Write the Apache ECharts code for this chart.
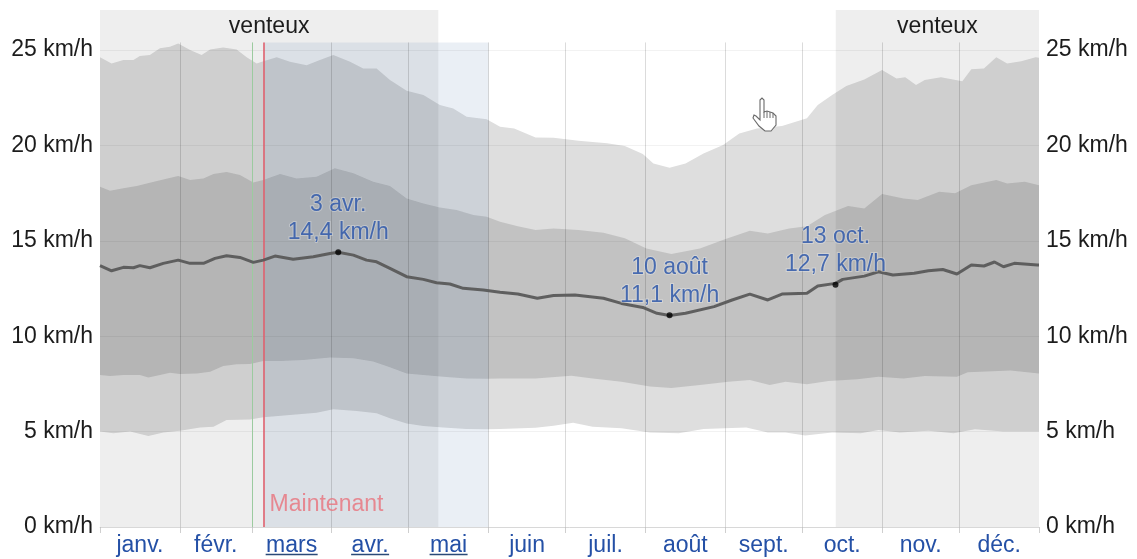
<!DOCTYPE html>
<html><head><meta charset="utf-8">
<style>html,body{margin:0;padding:0;background:#fff}#c{width:1137px;height:559px}</style>
<script src="https://cdn.jsdelivr.net/npm/echarts@6/dist/echarts.min.js"></script>
</head><body><div id="c"></div>
<script>
const months = ['janv.','févr.','mars','avr.','mai','juin','juil.','août','sept.','oct.','nov.','déc.'];
const underlined = ['mars','avr.','mai'];
const monthStarts = [0,31,59,90,120,151,181,212,243,273,304,334,365];
const yTicks = [0,5,10,15,20,25];
const windyPeriods = [[0,131.5],[286,365]];
const windyLabel = 'venteux';
const forecast = [63.6,151];
const nowDay = 63.6;
const firstMarch = 59;
const highlights = [[92.6,14.4,'3 avr.','14,4 km/h'],[221.4,11.1,'10 août','11,1 km/h'],[285.9,12.7,'13 oct.','12,7 km/h']];
const p90 = [[0,24.62],[4.5,24.3],[9.1,24.48],[13,24.48],[15.5,24.69],[19.4,24.74],[23.3,25.09],[27.2,25.17],[30.4,25.35],[35,25],[39.5,24.74],[42.8,25.03],[47.9,25.14],[53.1,25.03],[57,24.62],[60.9,24.3],[63.5,24.42],[68.7,24.62],[73.8,24.39],[80.3,24.21],[85.5,24.48],[90.7,24.74],[97.2,24.39],[102.3,24.04],[107.5,24.04],[112.7,23.43],[119.2,22.87],[125.7,22.64],[132.1,22.12],[137.3,21.94],[142.5,21.5],[150.3,21.37],[155.5,20.98],[161,20.89],[169.3,20.42],[176.3,20.4],[186,20.25],[197.1,20.11],[204,19.97],[211,19.55],[215.1,19.06],[221.4,18.83],[227.6,19.06],[234.6,19.58],[242.2,20.02],[248.5,20.63],[255.4,20.89],[265.1,21.02],[274.8,21.42],[279,22.12],[284.6,22.64],[290.1,23.11],[297.1,23.46],[304,23.95],[309.6,23.51],[313,23.57],[317.2,23.17],[320.6,23.43],[326.9,23.57],[335.2,23.37],[338.7,24],[343.6,24.04],[348.4,24.62],[352.6,24.3],[358.1,24.42],[363.7,24.62],[365,24.6]];
const p75 = [[0,17.84],[3.9,17.63],[9.1,17.75],[14.3,17.87],[19.4,18.05],[24.6,18.22],[30.4,18.4],[35,18.19],[40.2,18.27],[44.1,18.5],[49.2,18.61],[54.4,18.45],[59.6,18.06],[63.5,18.19],[70,18.5],[76.4,18.27],[84.2,18.36],[91.3,18.8],[98.5,18.54],[106.2,18.1],[112.7,17.87],[119.2,17.22],[125.7,16.96],[132.1,16.75],[138.6,16.61],[145.1,16.35],[150.3,16.26],[155.5,16],[162.4,15.77],[169.3,15.57],[176.3,15.65],[186,15.57],[195.7,15.43],[204,15.13],[212.4,14.6],[222.1,14.31],[233.2,14.6],[242.9,15.08],[252.6,15.53],[259.6,15.39],[267.9,15.65],[274.8,15.77],[281.8,16.35],[290.8,16.82],[297.1,16.7],[304,17.45],[312.3,17.22],[317.9,17.14],[326.2,17.57],[332.4,17.49],[338.7,17.92],[348.4,18.19],[352.6,18.01],[359.5,18.1],[365,17.92]];
const median = [[0,13.7],[4.5,13.43],[9.1,13.61],[13,13.59],[15.5,13.7],[19.4,13.59],[24.6,13.82],[30.4,13.99],[35,13.82],[40.2,13.82],[44.7,14.08],[49.2,14.22],[54.4,14.13],[59.6,13.87],[63.5,13.99],[68,14.2],[75.1,14.03],[82.9,14.17],[89.4,14.34],[92.6,14.4],[98.5,14.25],[103.6,13.99],[107.5,13.9],[112.7,13.56],[119.2,13.12],[125.7,12.98],[130.8,12.8],[136,12.74],[141.2,12.51],[149,12.42],[155.5,12.3],[162.4,12.21],[170,11.99],[176.3,12.14],[184.6,12.16],[195.7,11.99],[202.7,11.72],[211,11.51],[216.5,11.2],[221.4,11.09],[227.6,11.2],[238.7,11.55],[245.7,11.9],[252.6,12.21],[259.6,11.9],[265.1,12.21],[274.8,12.25],[279,12.63],[285.9,12.77],[288.7,12.98],[297.1,13.15],[302.6,13.38],[308.2,13.21],[316.5,13.3],[322,13.43],[327.6,13.5],[333.1,13.26],[338.7,13.73],[343.6,13.68],[347.7,13.89],[351.2,13.64],[355.4,13.82],[364.4,13.73],[365,13.73]];
const p25 = [[0,7.97],[3.9,7.91],[9.1,7.97],[15.5,7.97],[18.8,7.83],[23.3,7.97],[27.2,8.09],[31.1,8.02],[37.6,8.05],[42.8,8.14],[47.9,8.44],[53.1,8.53],[58.3,8.54],[63.5,8.7],[70,8.7],[79,8.75],[89.4,8.89],[98.5,8.84],[106.2,8.67],[112.7,8.37],[119.2,8.05],[125.7,7.97],[133.4,7.88],[142.5,7.79],[150.3,7.77],[155.5,7.79],[169.3,7.79],[183.2,7.93],[191.5,7.78],[202.7,7.62],[213.8,7.36],[222.1,7.29],[233.2,7.44],[244.3,7.62],[252.6,7.7],[260.3,7.44],[266.5,7.62],[274.8,7.48],[283.2,7.65],[294.3,7.74],[302.6,7.88],[312.3,7.79],[320.6,7.91],[333.1,7.88],[337.3,8.11],[354,8.2],[365,8.05]];
const p10 = [[0,5],[5.2,4.91],[11.7,5],[18.8,4.77],[24.6,4.95],[31.1,5.05],[38.9,5.22],[44.1,5.26],[49.2,5.61],[58.3,5.64],[63.5,5.75],[73.8,5.87],[84.2,5.99],[90.7,6.17],[99.8,6.08],[107.5,5.96],[112.7,5.7],[119.2,5.43],[125.7,5.29],[133.4,5.21],[142.5,5.14],[150.3,5.12],[155.5,5.14],[169.3,5.2],[176.3,5.31],[183.9,5.47],[191.5,5.26],[202.7,5.17],[213.8,4.95],[224.9,4.91],[234.6,5.14],[251.2,5.22],[259.6,4.95],[266.5,4.96],[274.1,4.79],[284.6,4.95],[295.7,4.91],[302.6,5.08],[310.9,4.96],[322,5.05],[331.8,4.91],[340.1,5.12],[351.2,5],[365,5]];

const FONT = '"Liberation Sans", Arial, sans-serif';
const FS = 23;
const GRIDTOP = 25.4, YMAX = 27.1;
const BLUE = '#2450a6';
const chart = echarts.init(document.getElementById('c'));

function band(data, color, z) {
  return {type:'line', data, showSymbol:false, silent:true, z, clip:true, animation:false,
    lineStyle:{width:0}, itemStyle:{opacity:0}, areaStyle:{color, opacity:1, origin:'start'}};
}
const mids = months.map((m,i)=>(monthStarts[i]+monthStarts[i+1])/2);
const monthName = d => months[mids.indexOf(d)] || '';
const yAxisBase = {type:'value', min:0, max:YMAX, interval:5, splitLine:{show:false},
  axisLine:{show:false}, axisTick:{show:false},
  axisLabel:{color:'#1c1c1c', fontSize:FS, fontFamily:FONT, margin:7, showMaxLabel:false, padding:[2,0,0,0],
    formatter:v=>yTicks.includes(v)?v+' km/h':''}};

chart.setOption({
  animation:false, backgroundColor:'#fff',
  grid:{left:100, right:98, top:10, bottom:32},
  xAxis:{type:'value', min:0, max:365, splitLine:{show:false},
    axisLine:{show:true, lineStyle:{color:'#e4e4e4', width:1}},
    axisTick:{show:true, length:6, lineStyle:{color:'#cfcfcf'}, customValues:monthStarts},
    axisLabel:{color:BLUE, fontSize:FS, fontFamily:FONT, margin:7, customValues:mids, formatter:monthName, hideOverlap:false}},
  yAxis:[Object.assign({position:'left'},yAxisBase), Object.assign({position:'right'},yAxisBase)],
  series:[
    band(p90,'#dedede',1), band(p75,'#c2c2c2',2), band(p25,'#dedede',3), band(p10,'#ffffff',4),
    {type:'line', data:[], z:5, silent:true,
      markArea:{silent:true, z:5, itemStyle:{color:'rgba(0,0,0,0.068)'},
        label:{show:true, position:'insideTop', distance:5, color:'#1c1c1c', fontSize:FS, fontFamily:FONT},
        data:windyPeriods.map(p=>[{name:windyLabel,coord:[p[0],YMAX]},{coord:[p[1],0]}])}},
    {type:'line', data:[], z:6, silent:true,
      markArea:{silent:true, z:6, itemStyle:{color:'rgba(80,120,170,0.12)'}, label:{show:false},
        data:[[{coord:[forecast[0],GRIDTOP]},{coord:[forecast[1],0]}]]}},
    {type:'line', data:[], z:7, silent:true,
      markLine:{silent:true, symbol:'none', z:7, animation:false, label:{show:false},
        lineStyle:{color:'rgba(0,0,0,0.05)', type:'solid', width:1},
        data:yTicks.map(v=>[{coord:[0,v]},{coord:[365,v]}])}},
    {type:'line', data:[], z:8, silent:true,
      markLine:{silent:true, symbol:'none', z:8, animation:false, label:{show:false},
        lineStyle:{color:'rgba(0,0,0,0.14)', type:'solid', width:1},
        data:monthStarts.slice(1,-1).filter(d=>d!==firstMarch).map(d=>[{coord:[d,0]},{coord:[d,GRIDTOP]}])}},
    {type:'line', data:[], z:9, silent:true,
      markLine:{silent:true, symbol:'none', z:9, animation:false,
        data:[
          [{coord:[firstMarch,0],lineStyle:{color:'#9ccb9f',width:1,type:'solid'},label:{show:false}},{coord:[firstMarch,GRIDTOP]}],
          [{coord:[nowDay,0],lineStyle:{color:'#e0616f',width:1.6,type:'solid'},label:{show:false}},{coord:[nowDay,GRIDTOP]}]
        ]}},
    {type:'line', data:median, z:10, showSymbol:false, silent:true, clip:true,
      lineStyle:{color:'#5a5a5a', width:3, opacity:.95}},
    {type:'scatter', z:11, silent:true, symbolSize:6, itemStyle:{color:'#000'},
      data:highlights.map(h=>({value:[h[0],h[1]], label:{formatter:h[2]+'\n'+h[3]}})),
      label:{show:true, position:'top', distance:3, color:BLUE, fontSize:FS, lineHeight:28, fontFamily:FONT,
        textBorderColor:'rgba(255,255,255,0.35)', textBorderWidth:2}},
    {type:'scatter', z:11, silent:true, symbolSize:0, data:[[nowDay,1.15]],
      label:{show:true, position:'right', distance:6, formatter:'Maintenant', color:'#e8727c', fontSize:FS, fontFamily:FONT}}
  ]
});

// underlines below linked month names, and the mouse cursor captured in the screenshot
const baseY = chart.convertToPixel({xAxisIndex:0,yAxisIndex:0},[0,0])[1];
const widths = {'mars':52,'avr.':38,'mai':38};
const graphics = underlined.map(m=>{
  const cx = chart.convertToPixel({xAxisIndex:0,yAxisIndex:0},[mids[months.indexOf(m)],0])[0];
  return {type:'line', z:20, silent:true, shape:{x1:cx-widths[m]/2,y1:baseY+27.5,x2:cx+widths[m]/2,y2:baseY+27.5},
    style:{stroke:'#2a4a78',lineWidth:1.6}};
});
const handOutline = [[8,2],[10,0],[12,2],[12,14],[15,13],[18,14],[21,15],[24,18],[24,27],[19,33],[13,33],[7,28],[1,20],[2,17],[4,18],[8,22]];
const handFingers = [[[12,14],[12,20]],[[15,13],[15,20]],[[18,14],[18,20]],[[21,15],[21,20]]];
graphics.push({type:'group', z:20, silent:true, x:752, y:98, children:[
  {type:'polygon', z:20, shape:{points:handOutline}, style:{fill:'#fff',stroke:'#6a6a6a',lineWidth:1.1}},
  ...handFingers.map(f=>({type:'polyline', z:21, shape:{points:f}, style:{fill:null,stroke:'#6a6a6a',lineWidth:1}}))
]});
chart.setOption({graphic:graphics});
</script></body></html>
